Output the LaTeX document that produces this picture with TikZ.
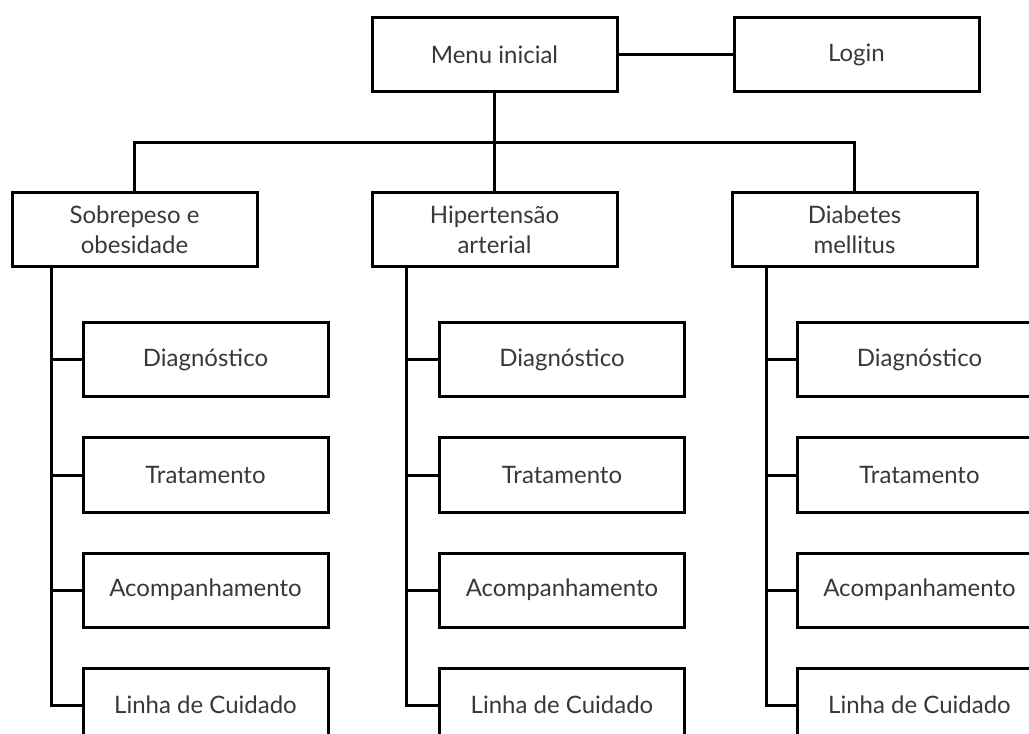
\documentclass[tikz,border=0pt]{standalone}
\usepackage{fontspec}
\setmainfont{Lato}
\begin{document}
\begin{tikzpicture}[x=0.75pt,y=-0.75pt,
  box/.style={draw=black,line width=2.25pt,minimum width=245*0.75pt,minimum height=74*0.75pt,
    inner sep=0pt,align=center,text=black!78,font=\fontsize{18}{22.5}\selectfont},
  link/.style={line width=2.25pt,draw=black}]
\useasboundingbox (0,0) rectangle (1029,734);
\clip (0,0) rectangle (1029,734);
\node[box] (menu) at (494.5,55) {Menu inicial};
\node[box] (login) at (856.5,55) {Login};
\node[box] (c1) at (134.5,230) {Sobrepeso e\\obesidade};
\node[box] (c2) at (494.5,230) {Hipertensão\\arterial};
\node[box] (c3) at (854.5,230) {Diabetes\\mellitus};
\foreach \c/\x/\v in {1/205.5/51,2/562/406,3/919.5/766}{
  \node[box] (d\c) at (\x,360) {Diagnóstico};
  \node[box] (t\c) at (\x,475) {Tratamento};
  \node[box] (a\c) at (\x,590) {Acompanhamento};
  \node[box] (l\c) at (\x,705) {Linha de Cuidado};
  \draw[link] (c\c.south -| \v,0) -- (l\c.west -| \v,0) -- (l\c.west);
  \draw[link] (d\c.west -| \v,0) -- (d\c.west);
  \draw[link] (t\c.west -| \v,0) -- (t\c.west);
  \draw[link] (a\c.west -| \v,0) -- (a\c.west);
}
\coordinate (bus) at (494.5,143);
\draw[link] (menu.east) -- (login.west);
\draw[link] (menu.south) -- (c2.north);
\draw[link] (c1.north) |- (bus) -| (c3.north);
\end{tikzpicture}
\end{document}
